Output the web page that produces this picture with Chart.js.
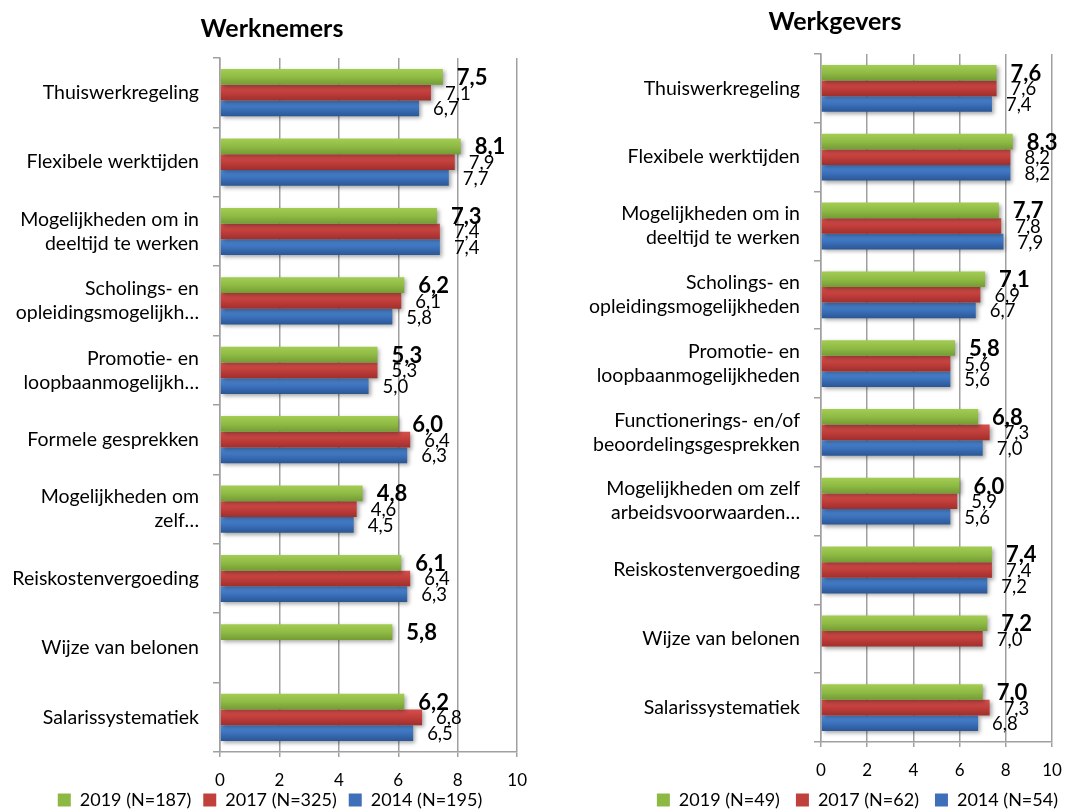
<!DOCTYPE html>
<html>
<head>
<meta charset="utf-8">
<title>Werknemers / Werkgevers</title>
<script src="https://cdn.jsdelivr.net/npm/chart.js@4.4.1/dist/chart.umd.min.js"></script>
<style>
  html, body { margin: 0; padding: 0; background: #fff; }
  body { width: 1080px; height: 809px; position: relative; overflow: hidden; }
  .panel { position: absolute; top: 0; width: 540px; height: 829px; }
  #panelLeft { left: 0; }
  #panelRight { left: 540px; }
  h2 {
    position: absolute; margin: 0; width: 300px; text-align: center;
    font: bold 25px Lato, sans-serif; color: #000; z-index: 2;
  }
</style>
</head>
<body>
<div class="panel" id="panelLeft"><canvas id="chartLeft" width="540" height="829"></canvas></div>
<div class="panel" id="panelRight"><canvas id="chartRight" width="540" height="829"></canvas></div>
<h2 style="left:122px; top:12px;">Werknemers</h2>
<h2 style="left:685px; top:5px;">Werkgevers</h2>

<script>
// Categories
const employeeCategories = [
  'Thuiswerkregeling',
  'Flexibele werktijden',
  ['Mogelijkheden om in', 'deeltijd te werken'],
  ['Scholings- en', 'opleidingsmogelijkh…'],
  ['Promotie- en', 'loopbaanmogelijkh…'],
  'Formele gesprekken',
  ['Mogelijkheden om', 'zelf…'],
  'Reiskostenvergoeding',
  'Wijze van belonen',
  'Salarissystematiek'
];
const employerCategories = [
  'Thuiswerkregeling',
  'Flexibele werktijden',
  ['Mogelijkheden om in', 'deeltijd te werken'],
  ['Scholings- en', 'opleidingsmogelijkheden'],
  ['Promotie- en', 'loopbaanmogelijkheden'],
  ['Functionerings- en/of', 'beoordelingsgesprekken'],
  ['Mogelijkheden om zelf', 'arbeidsvoorwaarden…'],
  'Reiskostenvergoeding',
  'Wijze van belonen',
  'Salarissystematiek'
];

// Series names (legend)
const employeeSeries = ['2019 (N=187)', '2017 (N=325)', '2014 (N=195)'];
const employerSeries = ['2019 (N=49)', '2017 (N=62)', '2014 (N=54)'];

// Scores per year
const employees2019 = [7.5, 8.1, 7.3, 6.2, 5.3, 6.0, 4.8, 6.1, 5.8, 6.2];
const employees2017 = [7.1, 7.9, 7.4, 6.1, 5.3, 6.4, 4.6, 6.4, null, 6.8];
const employees2014 = [6.7, 7.7, 7.4, 5.8, 5.0, 6.3, 4.5, 6.3, null, 6.5];

const employers2019 = [7.6, 8.3, 7.7, 7.1, 5.8, 6.8, 6.0, 7.4, 7.2, 7.0];
const employers2017 = [7.6, 8.2, 7.8, 6.9, 5.6, 7.3, 5.9, 7.4, 7.0, 7.3];
const employers2014 = [7.4, 8.2, 7.9, 6.7, 5.6, 7.0, 5.6, 7.2, null, 6.8];

// Value axis ticks
const xTicks = [0, 2, 4, 6, 8, 10];

// Bar colours: gradient top → bottom, flat colour for the legend
const PALETTE = [
  { top: '#a3cc52', mid: '#8fbb45', bottom: '#739c34', flat: '#8cb843' },
  { top: '#d4504c', mid: '#c13e3b', bottom: '#9f2f2c', flat: '#c0403c' },
  { top: '#4f8bd6', mid: '#3c72bd', bottom: '#2b5694', flat: '#3d70b8' }
];

const FONT = 'Lato, "Open Sans", sans-serif';
const GRID = '#a0a0a0';

const fmt = v => v.toFixed(1).replace('.', ',');

// Gradient fill + soft shadow for the bars, value labels after them
const barStyle = {
  id: 'barStyle',
  beforeDatasetsDraw(chart) {
    const ctx = chart.ctx;
    chart.data.datasets.forEach((ds, i) => {
      const pal = PALETTE[i];
      chart.getDatasetMeta(i).data.forEach((el, j) => {
        if (ds.data[j] == null || !el.options) return;
        const h = el.height;
        const g = ctx.createLinearGradient(0, el.y - h / 2, 0, el.y + h / 2);
        g.addColorStop(0, pal.top);
        g.addColorStop(0.5, pal.mid);
        g.addColorStop(1, pal.bottom);
        el.options.backgroundColor = g;
      });
    });
    ctx.save();
    ctx.shadowColor = 'rgba(0,0,0,0.35)';
    ctx.shadowBlur = 4;
    ctx.shadowOffsetX = 2;
    ctx.shadowOffsetY = 2;
  },
  afterDatasetsDraw(chart) {
    const ctx = chart.ctx;
    ctx.restore();
    ctx.save();
    ctx.textAlign = 'left';
    ctx.textBaseline = 'middle';
    ctx.fillStyle = '#000';
    for (let i = chart.data.datasets.length - 1; i >= 0; i--) {
      const ds = chart.data.datasets[i];
      ctx.font = i === 0 ? 'bold 22px ' + FONT : '18.5px ' + FONT;
      chart.getDatasetMeta(i).data.forEach((el, j) => {
        const v = ds.data[j];
        if (v == null) return;
        ctx.fillText(fmt(v), el.x + 14, el.y + 1);
      });
    }
    ctx.restore();
  }
};

// Moves the legend row up into the free space under the tick labels
const legendShift = {
  id: 'legendShift',
  afterLayout(chart, args, opts) {
    const lg = chart.legend;
    if (!lg || !opts.dy) return;
    lg.top += opts.dy;
    lg.bottom += opts.dy;
  }
};

function buildChart(canvasId, categories, series, values, opts) {
  const datasets = values.map((data, i) => ({
    label: series[i],
    data: data,
    xAxisID: 'x',
    yAxisID: 'y',
    backgroundColor: () => PALETTE[i].flat,
    borderWidth: 0,
    categoryPercentage: 0.68,
    barPercentage: 1
  }));

  return new Chart(document.getElementById(canvasId), {
    type: 'bar',
    data: { labels: categories, datasets },
    plugins: [barStyle, legendShift],
    options: {
      indexAxis: 'y',
      responsive: false,
      animation: false,
      devicePixelRatio: 1,
      layout: { padding: { top: opts.top, left: 0, right: opts.padRight, bottom: 0 } },
      scales: {
        x: {
          type: 'linear',
          position: 'bottom',
          min: xTicks[0],
          max: xTicks[xTicks.length - 1],
          afterBuildTicks(s) { s.ticks = xTicks.map(v => ({ value: v })); },
          afterFit(s) { s.height = opts.xHeight; },
          grid: { color: GRID, lineWidth: 1.5, tickLength: 5 },
          border: { color: GRID, width: 1.5 },
          ticks: { color: '#000', padding: 13, font: { family: FONT, size: 17 } }
        },
        y: {
          type: 'category',
          position: 'left',
          offset: true,
          afterFit(s) { s.width = opts.yWidth; },
          grid: { offset: true, drawOnChartArea: false, drawTicks: true, tickLength: 7, color: GRID, lineWidth: 1.5 },
          border: { color: GRID, width: 1.5 },
          ticks: {
            color: '#000', padding: 14, crossAlign: 'near', autoSkip: false,
            font: { family: FONT, size: 19.5, lineHeight: 1.23 }
          }
        },
        spacer: {
          type: 'linear',
          axis: 'y',
          position: 'right',
          afterFit(s) { s.width = opts.spacer; },
          grid: { display: false },
          border: { display: false },
          ticks: { display: false }
        }
      },
      plugins: {
        title: { display: false },
        tooltip: { enabled: false },
        legendShift: { dy: -10 },
        legend: {
          position: 'bottom',
          align: opts.legendAlign,
          labels: {
            color: '#000',
            boxWidth: 13,
            boxHeight: 13,
            padding: opts.legendPadding,
            font: { family: FONT, size: 18 }
          }
        }
      }
    }
  });
}

buildChart('chartLeft', employeeCategories, employeeSeries,
  [employees2019, employees2017, employees2014],
  { top: 58, padRight: 0, yWidth: 220, spacer: 22, xHeight: 37, legendAlign: 'center', legendPadding: 12 });

buildChart('chartRight', employerCategories, employerSeries,
  [employers2019, employers2017, employers2014],
  { top: 54, padRight: 6, yWidth: 281, spacer: 22, xHeight: 43, legendAlign: 'end', legendPadding: 16 });
</script>
</body>
</html>
